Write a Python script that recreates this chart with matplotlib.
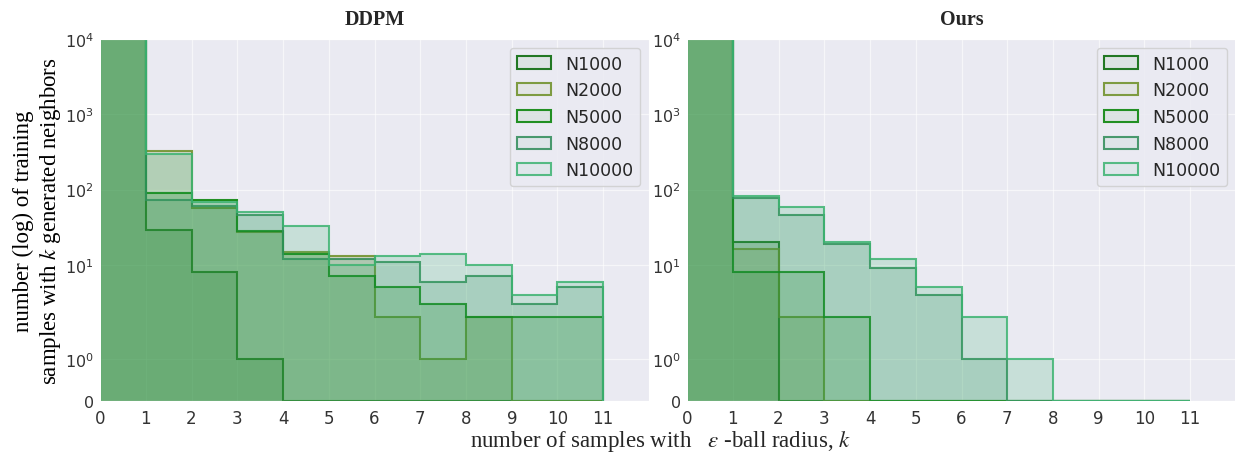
import matplotlib
matplotlib.use("Agg")
import matplotlib.pyplot as plt
import numpy as np
import seaborn as sns

sns.set_style("darkgrid")
plt.rcParams["mathtext.fontset"] = "stix"

# histogram bin edges: k = 0 .. 11
edges = np.arange(0, 12)
labels = ["N1000", "N2000", "N5000", "N8000", "N10000"]
colors = ["darkgreen", "olivedrab", "green", "seagreen", "mediumseagreen"]

# counts per bin (first bin is far above 1e4 and gets clipped)
ddpm_n1000 = [20000, 29, 8, 1, 0, 0, 0, 0, 0, 0, 0]
ddpm_n2000 = [20000, 327, 57, 27, 15, 13, 2, 1, 2, 0, 0]
ddpm_n5000 = [20000, 90, 73, 28, 14, 7, 5, 3, 2, 2, 2]
ddpm_n8000 = [20000, 72, 60, 46, 12, 12, 11, 6, 7, 3, 5]
ddpm_n10000 = [20000, 295, 68, 50, 33, 10, 13, 14, 10, 4, 6]

ours_n1000 = [20000, 20, 0, 0, 0, 0, 0, 0, 0, 0, 0]
ours_n2000 = [20000, 16, 2, 0, 0, 0, 0, 0, 0, 0, 0]
ours_n5000 = [20000, 8, 8, 2, 0, 0, 0, 0, 0, 0, 0]
ours_n8000 = [20000, 78, 46, 19, 9, 4, 1, 0, 0, 0, 0]
ours_n10000 = [20000, 81, 59, 20, 12, 5, 2, 1, 0, 0, 0]

ddpm = [ddpm_n1000, ddpm_n2000, ddpm_n5000, ddpm_n8000, ddpm_n10000]
ours = [ours_n1000, ours_n2000, ours_n5000, ours_n8000, ours_n10000]

yticks = [0, 1, 10, 100, 1000, 10000]
ytick_labels = ["0", "$\\mathdefault{10^{0}}$", "$\\mathdefault{10^{1}}$",
                "$\\mathdefault{10^{2}}$", "$\\mathdefault{10^{3}}$", "$\\mathdefault{10^{4}}$"]

fig = plt.figure(figsize=(12.35, 4.6), dpi=100)
ax1 = fig.add_axes([0.081, 0.126, 0.4445, 0.787])
ax2 = fig.add_axes([0.5563, 0.126, 0.4445, 0.787])


def draw(ax, series, title):
    for counts, lab, c in zip(series, labels, colors):
        ax.stairs(counts, edges, fill=True, label=lab,
                  facecolor=matplotlib.colors.to_rgba(c, 0.2),
                  edgecolor=matplotlib.colors.to_rgba(c, 0.85), linewidth=1.5)
    ax.set_yscale("symlog", linthresh=2)
    ax.set_ylim(0, 1e4)
    ax.set_xlim(0, 12)
    ax.set_yticks(yticks, ytick_labels)
    ax.yaxis.set_minor_locator(matplotlib.ticker.NullLocator())
    ax.set_xticks(range(12))
    ax.grid(color="white", linewidth=0.9, alpha=0.6)
    ax.tick_params(labelsize=12, colors="#333333", pad=2)
    ax.tick_params(axis="y", labelsize=11.5, pad=1)
    ax.set_title(title, fontfamily="Liberation Serif", fontweight="bold",
                 fontsize=14.5, pad=11)
    leg = ax.legend(loc="upper right", fontsize=12.5, handlelength=2.0)
    # lighter fill inside the legend boxes, like the original
    for h, c in zip(leg.legend_handles, colors):
        h.set_facecolor(matplotlib.colors.to_rgba(c, 0.06))


draw(ax1, ddpm, "DDPM")
draw(ax2, ours, "Ours")

ax1.set_ylabel("number (log) of training\nsamples with $k$ generated neighbors",
               fontfamily="Liberation Serif", fontsize=16.5, color="black")
ax1.yaxis.set_label_coords(-0.068, 0.5)
fig.text(0.535, 0.04, "number of samples with   $\\varepsilon$ -ball radius, $k$",
         ha="center", va="center", fontfamily="Liberation Serif", fontsize=16.5)

fig.savefig("out.png", dpi=100)
